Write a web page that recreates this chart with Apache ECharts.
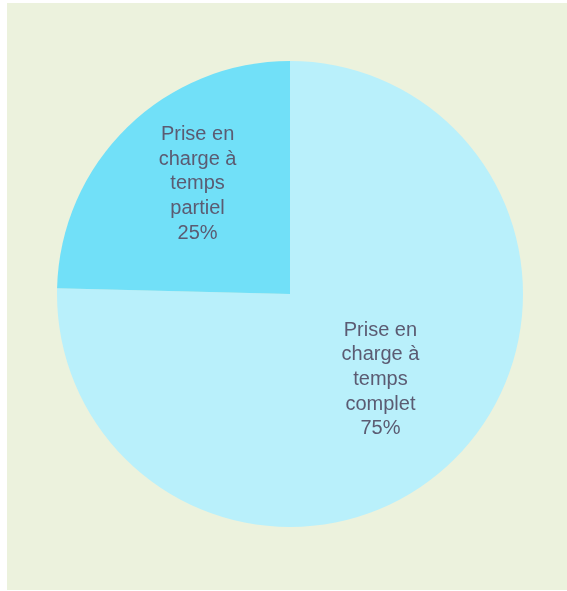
<!DOCTYPE html>
<html>
<head>
<meta charset="utf-8">
<script src="https://cdn.jsdelivr.net/npm/echarts@6/dist/echarts.min.js"></script>
<style>
html,body{margin:0;padding:0;background:#fff;}
#c{width:567px;height:591px;}
</style>
</head>
<body>
<div id="c"></div>
<script>
const categories = ["Prise en\ncharge à\ntemps\ncomplet", "Prise en\ncharge à\ntemps\npartiel"];
const values = [75.4, 24.6];
const percentLabels = ["75%", "25%"];
const colors = ["#B9F0FB", "#71E0F8"];

const chart = echarts.init(document.getElementById('c'), null, {renderer: 'canvas'});
const labelPadding = [[0, 0, 0, 14], [0, 18, 0, 0]];
const labelTail = ['', '\n\n'];
chart.setOption({
  animation: false,
  graphic: [{
    type: 'rect', z: -10, silent: true,
    shape: {x: 7, y: 3, width: 560, height: 587},
    style: {fill: '#ECF2DD'}
  }],
  series: [{
    type: 'pie',
    center: [290, 294],
    radius: [0, 233],
    startAngle: 90,
    clockwise: true,
    avoidLabelOverlap: false,
    label: {
      show: true,
      position: 'inside',
      fontFamily: 'Liberation Sans, Arial, sans-serif',
      fontSize: 20,
      lineHeight: 24.6,
      color: '#5B5B72',
      align: 'center'
    },
    labelLine: {show: false},
    emphasis: {disabled: true},
    data: categories.map((c, i) => ({
      name: c,
      value: values[i],
      itemStyle: {color: colors[i]},
      label: {formatter: c + '\n' + percentLabels[i] + labelTail[i], padding: labelPadding[i]}
    }))
  }]
});
</script>
</body>
</html>
